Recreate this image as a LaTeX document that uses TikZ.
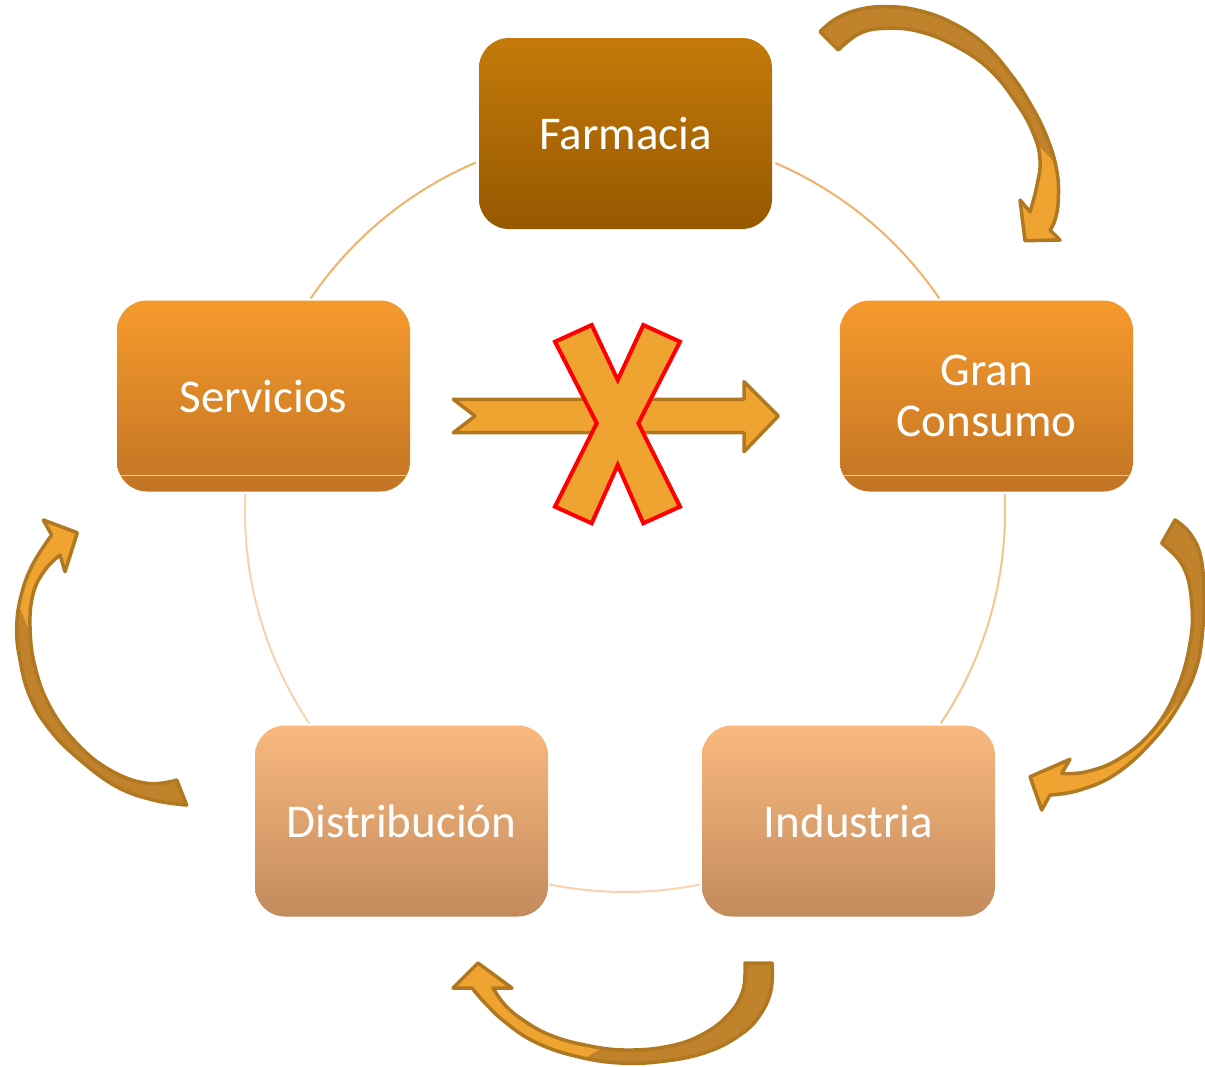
\documentclass[tikz,border=0pt]{standalone}
\usepackage{fontspec}
\setmainfont{Carlito}
\usetikzlibrary{calc}
\definecolor{farmtop}{HTML}{C47A0A}
\definecolor{farmbot}{HTML}{965800}
\definecolor{midtop}{HTML}{F69A2C}
\definecolor{midbot}{HTML}{C27424}
\definecolor{lowtop}{HTML}{F9B97F}
\definecolor{lowbot}{HTML}{C28B5C}
\definecolor{arrfill}{HTML}{EFA431}
\definecolor{arrdark}{HTML}{C0822A}
\definecolor{arrline}{HTML}{B07820}
\definecolor{arcA}{HTML}{EFB36B}
\definecolor{arcB}{HTML}{F5C690}
\definecolor{arcC}{HTML}{F8D3AE}
\tikzset{
  stage/.style={rounded corners=30pt, minimum width=293pt, minimum height=191pt,
    inner sep=0pt, text=white, font=\fontsize{47}{51}\selectfont, align=center},
  topstage/.style={stage, top color=farmtop, bottom color=farmbot},
  midstage/.style={stage, top color=midtop, bottom color=midbot},
  lowstage/.style={stage, top color=lowtop, bottom color=lowbot},
  ring/.style={line width=2pt},
  band/.style={draw=#1, line width=1pt},
  arrowedge/.style={draw=arrline, line width=3.5pt, line join=round},
  cross/.style={fill=arrfill, draw=red, line width=4pt, line join=miter}
}
\newcommand\shapeTR{plot[smooth, tension=0.7] coordinates {(820,31.7) (836.7,18.3) (860,9.3) (886.7,6.7) (916.7,10) (950,21.7) (983.3,43.3) (1010,73.3) (1030,103.3) (1046.7,136.7) (1056.7,170) (1058.3,200) (1055,220) (1050,230)}
  -- (1060,240) -- (1025,240.7) -- (1020,200) -- (1030,211.7)
  -- plot[smooth, tension=0.7] coordinates {(1030,211.7) (1036.7,186.7) (1040,160) (1033.3,133.3) (1016.7,103.3) (990,70) (956.7,46.7) (920,31.7) (886.7,28.3) (860,33.3) (838.3,50)} -- cycle}
\newcommand\shapeR{plot[smooth, tension=0.7] coordinates {(1175,520) (1190,533.3) (1200.7,556.7) (1204,593.3) (1203,626.7) (1196.7,666.7) (1180,703.3) (1153.3,740) (1116.7,773.3) (1080,790) (1050,795)}
  -- (1041.7,810) -- (1030,776.7) -- (1070,759.3) -- (1061.7,773.3)
  -- plot[smooth, tension=0.7] coordinates {(1061.7,773.3) (1086.7,771.7) (1120,758.3) (1153.3,730) (1176.7,690) (1190,643.3) (1191.7,603.3) (1183.3,566.7) (1161.7,543.3)} -- cycle}
\newcommand\shapeL{plot[smooth, tension=0.7] coordinates {(51.7,535) (33.3,563.3) (21.7,593.3) (16.7,626.7) (20,660) (30,696.7) (50,730) (80,760) (116.7,786.7) (153.3,800) (186.7,805)}
  -- (176.7,780)
  -- plot[smooth, tension=0.7] coordinates {(176.7,780) (146.7,783.3) (110,770) (76.7,743.3) (50,706.7) (35,666.7) (30,626.7) (33.3,593.3) (45,570) (60,555)}
  -- (65,571.7) -- (77.3,532.7) -- (43.3,520) -- cycle}
\newcommand\shapeB{(745,963) -- (772,963)
  -- plot[smooth, tension=0.7] coordinates {(772,963) (771,990) (760,1015) (740,1035) (707,1052) (665,1061) (620,1063) (575,1056) (535,1042) (505,1022) (485,1003) (472,988)}
  -- (453,988) -- (478,963) -- (512,988) -- (493,988)
  -- plot[smooth, tension=0.7] coordinates {(493,988) (505,1005) (523,1020) (550,1035) (585,1045) (625,1050) (670,1046) (705,1033) (730,1013) (742,993) (745,975) (745,963)} -- cycle}
\begin{document}
\begin{tikzpicture}[x=1pt,y=-1pt]
\useasboundingbox (0,0) rectangle (1205,1066);
\fill[white] (0,0) rectangle (1205,1066);
% ring
\coordinate (c) at (625,512);
\draw[ring, arcA] ($(c)+(-113.1:380)$) arc[start angle=-113.1, end angle=-145.8, radius=380];
\draw[ring, arcA] ($(c)+(-66.7:380)$) arc[start angle=-66.7, end angle=-34.2, radius=380];
\draw[ring, arcC] ($(c)+(182.7:380)$) arc[start angle=182.7, end angle=146.2, radius=380];
\draw[ring, arcB] ($(c)+(-2.7:380)$) arc[start angle=-2.7, end angle=33.8, radius=380];
\draw[ring, arcC] ($(c)+(101.5:380)$) arc[start angle=101.5, end angle=78.7, radius=380];
% stages
\node[topstage] (farm) at (625.5,133.5) {Farmacia};
\node[midstage] (serv) at (263.5,396) {Servicios};
\node[midstage] (gran) at (986.5,396) {Gran\\Consumo};
\node[lowstage] (dist) at (401.5,821) {Distribución};
\node[lowstage] (ind) at (848.5,821) {Industria};
\draw[band=midtop!55!white] ([shift={(4pt,16pt)}]serv.south west) -- ([shift={(-4pt,16pt)}]serv.south east);
\draw[band=midtop!55!white] ([shift={(4pt,16pt)}]gran.south west) -- ([shift={(-4pt,16pt)}]gran.south east);
% curved arrows
\fill[arrdark] \shapeTR;
\begin{scope}\clip (990,95) -- (1100,210) -- (1100,260) -- (990,260) -- cycle; \fill[arrfill] \shapeTR; \end{scope}
\path[arrowedge] \shapeTR;
\fill[arrdark] \shapeR;
\begin{scope}\clip (1000,830) -- (1000,725) -- (1160,725) -- (1200,675) -- (1210,675) -- (1210,830) -- cycle; \fill[arrfill] \shapeR; \end{scope}
\path[arrowedge] \shapeR;
\fill[arrdark] \shapeL;
\begin{scope}\clip (0,500) -- (100,500) -- (100,660) -- (42,660) -- (12,590) -- (0,590) -- cycle; \fill[arrfill] \shapeL; \end{scope}
\path[arrowedge] \shapeL;
\fill[arrdark] \shapeB;
\begin{scope}\clip (440,950) -- (615,950) -- (615,1040) -- (565,1070) -- (440,1070) -- cycle; \fill[arrfill] \shapeB; \end{scope}
\path[arrowedge] \shapeB;
% straight arrow Servicios -> Gran Consumo
\path[fill=arrfill, arrowedge] (453.3,399.3) -- (744,399.3) -- (744,381.7) -- (778.3,416) -- (744,451.7) -- (744,432.7) -- (453.3,432.7) -- (475,416) -- cycle;
% cross
\path[cross] (555,341.7) -- (591.7,325) -- (617.7,380) -- (643.3,325) -- (680,341.7) -- (638.3,423.3) -- (680,506.7) -- (643.3,523.3) -- (617.7,465) -- (591.7,523.3) -- (555,506.7) -- (596.7,423.3) -- cycle;
\end{tikzpicture}
\end{document}
